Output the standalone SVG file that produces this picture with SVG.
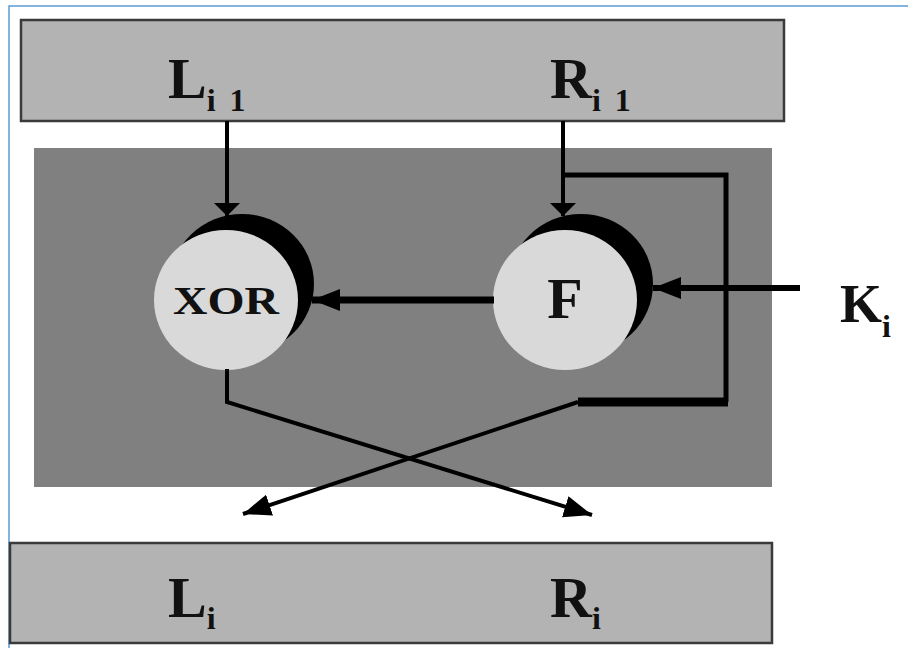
<svg xmlns="http://www.w3.org/2000/svg" width="908" height="648" viewBox="0 0 908 648">
<defs>
<style>
.box{fill:#b3b3b3;stroke:#3a3a3a;stroke-width:2.5}
.lab{font-family:"Liberation Serif","Times New Roman",serif;font-weight:bold;fill:#111}
.sub{font-size:32px;word-spacing:6px}
.ln{fill:none;stroke:#000;stroke-linejoin:miter}
.disk{fill:#d9d9d9}
.shadow{fill:#000}
</style>
<marker id="ah" markerUnits="userSpaceOnUse" markerWidth="30" markerHeight="24" refX="28" refY="11" orient="auto">
<path d="M0,0 L28,11 L0,22 z" fill="#000"/>
</marker>
<marker id="ahs" markerUnits="userSpaceOnUse" markerWidth="14" markerHeight="28" refX="13" refY="13" orient="auto">
<path d="M0,0 L13,13 L0,26 z" fill="#000"/>
</marker>
</defs>
<rect x="0" y="0" width="908" height="648" fill="#fff"/>
<rect x="9" y="6" width="1000" height="1000" fill="none" stroke="#5b9bd5" stroke-width="1.5"/>

<g id="round">
<rect x="34" y="148" width="738" height="339" fill="#808080"/>
</g>

<g id="top">
<rect class="box" x="21" y="20" width="763" height="101"/>
<text class="lab" x="168" y="98" font-size="58">L<tspan class="sub" dy="13">i 1</tspan></text>
<text class="lab" x="550" y="98" font-size="58">R<tspan class="sub" dy="13">i 1</tspan></text>
</g>

<g id="bottom">
<rect class="box" x="10" y="543" width="762" height="100"/>
<text class="lab" x="168" y="617" font-size="58">L<tspan class="sub" dy="12">i</tspan></text>
<text class="lab" x="550" y="617" font-size="58">R<tspan class="sub" dy="12">i</tspan></text>
</g>

<g id="xor">
<ellipse class="shadow" cx="242" cy="284" rx="72" ry="70"/>
<ellipse class="disk" cx="226" cy="300" rx="72" ry="70"/>
<text class="lab" x="226" y="314" font-size="40" text-anchor="middle" textLength="106" lengthAdjust="spacingAndGlyphs">XOR</text>
</g>

<g id="f">
<ellipse class="shadow" cx="581" cy="284" rx="72" ry="70"/>
<ellipse class="disk" cx="565" cy="300" rx="72" ry="70"/>
<text class="lab" x="565" y="318" font-size="58" text-anchor="middle">F</text>
</g>

<g id="key">
<text class="lab" x="840" y="322" font-size="54">K<tspan class="sub" dy="15">i</tspan></text>
</g>

<g id="connectors">
<path class="ln" d="M227,121 V216" stroke-width="4" marker-end="url(#ahs)"/>
<path class="ln" d="M563,121 V216" stroke-width="4" marker-end="url(#ahs)"/>
<path class="ln" d="M561,175 H726 V402" stroke-width="5"/>
<path class="ln" d="M728,402 H578" stroke-width="9"/>
<path class="ln" d="M578,402 L243,514" stroke-width="4" marker-end="url(#ah)"/>
<path class="ln" d="M227,369 V402 L592,515" stroke-width="4" marker-end="url(#ah)"/>
<path class="ln" d="M800,288 H653" stroke-width="6" marker-end="url(#ah)"/>
<path class="ln" d="M494,300 H312" stroke-width="7" marker-end="url(#ah)"/>
</g>
</svg>
